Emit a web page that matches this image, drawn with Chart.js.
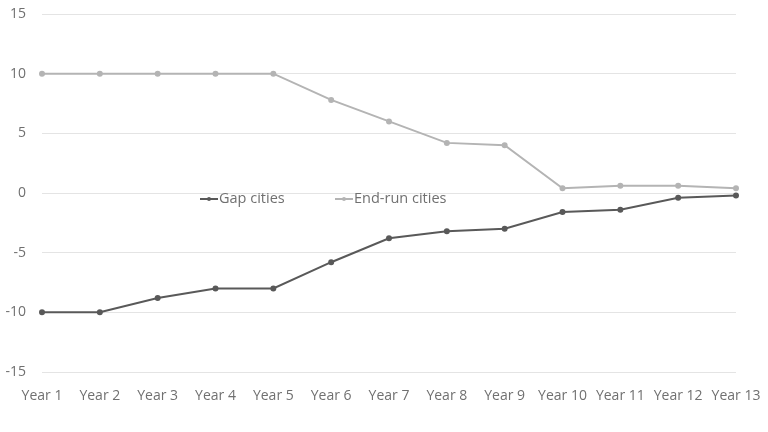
<!DOCTYPE html>
<html>
<head>
<meta charset="utf-8">
<script src="https://cdn.jsdelivr.net/npm/chart.js@4"></script>
<style>
  html, body { margin: 0; padding: 0; background: #fff; }
  #wrap { width: 768px; height: 432px; }
</style>
</head>
<body>
<div id="wrap"><canvas id="chart" width="768" height="432"></canvas></div>
<script>
const years = ['Year 1', 'Year 2', 'Year 3', 'Year 4', 'Year 5', 'Year 6', 'Year 7',
               'Year 8', 'Year 9', 'Year 10', 'Year 11', 'Year 12', 'Year 13'];
const gapCities = [-10, -10, -8.8, -8, -8, -5.8, -3.8, -3.2, -3.0, -1.6, -1.4, -0.4, -0.2];
const endRunCities = [10, 10, 10, 10, 10, 7.8, 6, 4.2, 4.0, 0.4, 0.6, 0.6, 0.4];
const yTicks = [-15, -10, -5, 0, 5, 10, 15];

const darkGrey = '#595959';
const lightGrey = '#b4b4b4';
const textGrey = '#707070';
const fontFamily = "'Open Sans', 'Noto Sans', sans-serif";

// legend sits inside the plot, just under the zero line
const inlineLegend = {
    id: 'inlineLegend',
    afterDraw(chart) {
        const ctx = chart.ctx;
        const y = chart.scales.y.getPixelForValue(0) + 6;
        const items = [
            { x: 200, label: 'Gap cities', color: darkGrey },
            { x: 335, label: 'End-run cities', color: lightGrey }
        ];
        ctx.save();
        ctx.font = '14.5px ' + fontFamily;
        ctx.textBaseline = 'middle';
        items.forEach(item => {
            ctx.strokeStyle = item.color;
            ctx.fillStyle = item.color;
            ctx.lineWidth = 2;
            ctx.beginPath();
            ctx.moveTo(item.x, y);
            ctx.lineTo(item.x + 18, y);
            ctx.stroke();
            ctx.beginPath();
            ctx.arc(item.x + 9, y, 2, 0, Math.PI * 2);
            ctx.fill();
            ctx.fillStyle = textGrey;
            ctx.fillText(item.label, item.x + 19, y);
        });
        ctx.restore();
    }
};

new Chart(document.getElementById('chart'), {
    type: 'line',
    data: {
        labels: years,
        datasets: [{
            label: 'Gap cities',
            data: gapCities,
            borderColor: darkGrey,
            backgroundColor: darkGrey,
            borderWidth: 2,
            pointRadius: 2,
            pointHoverRadius: 2,
            fill: false,
            tension: 0
        },
        {
            label: 'End-run cities',
            data: endRunCities,
            borderColor: lightGrey,
            backgroundColor: lightGrey,
            borderWidth: 2,
            pointRadius: 2,
            pointHoverRadius: 2,
            fill: false,
            tension: 0
        }]
    },
    options: {
        responsive: false,
        animation: false,
        layout: {
            padding: { top: 14, right: 32, bottom: 0, left: 0 }
        },
        plugins: {
            legend: { display: false },
            tooltip: { enabled: false }
        },
        scales: {
            x: {
                offset: false,
                grid: { display: false, drawTicks: false },
                border: { display: false },
                ticks: {
                    color: textGrey,
                    font: { family: fontFamily, size: 14 },
                    padding: 16,
                    maxRotation: 0,
                    autoSkip: false
                },
                afterFit(scale) {
                    scale.height = 60;
                    scale.paddingLeft = 0;
                    scale.paddingRight = 0;
                }
            },
            y: {
                min: -15,
                max: 15,
                grid: { color: '#e4e4e4', drawTicks: false, lineWidth: 1 },
                border: { display: false },
                afterBuildTicks(scale) { scale.ticks = yTicks.map(v => ({ value: v })); },
                ticks: {
                    color: textGrey,
                    font: { family: fontFamily, size: 14 },
                    padding: 16
                },
                afterFit(scale) {
                    scale.width = 42;
                    scale.paddingTop = 0;
                    scale.paddingBottom = 0;
                }
            }
        }
    },
    plugins: [inlineLegend]
});
</script>
</body>
</html>
